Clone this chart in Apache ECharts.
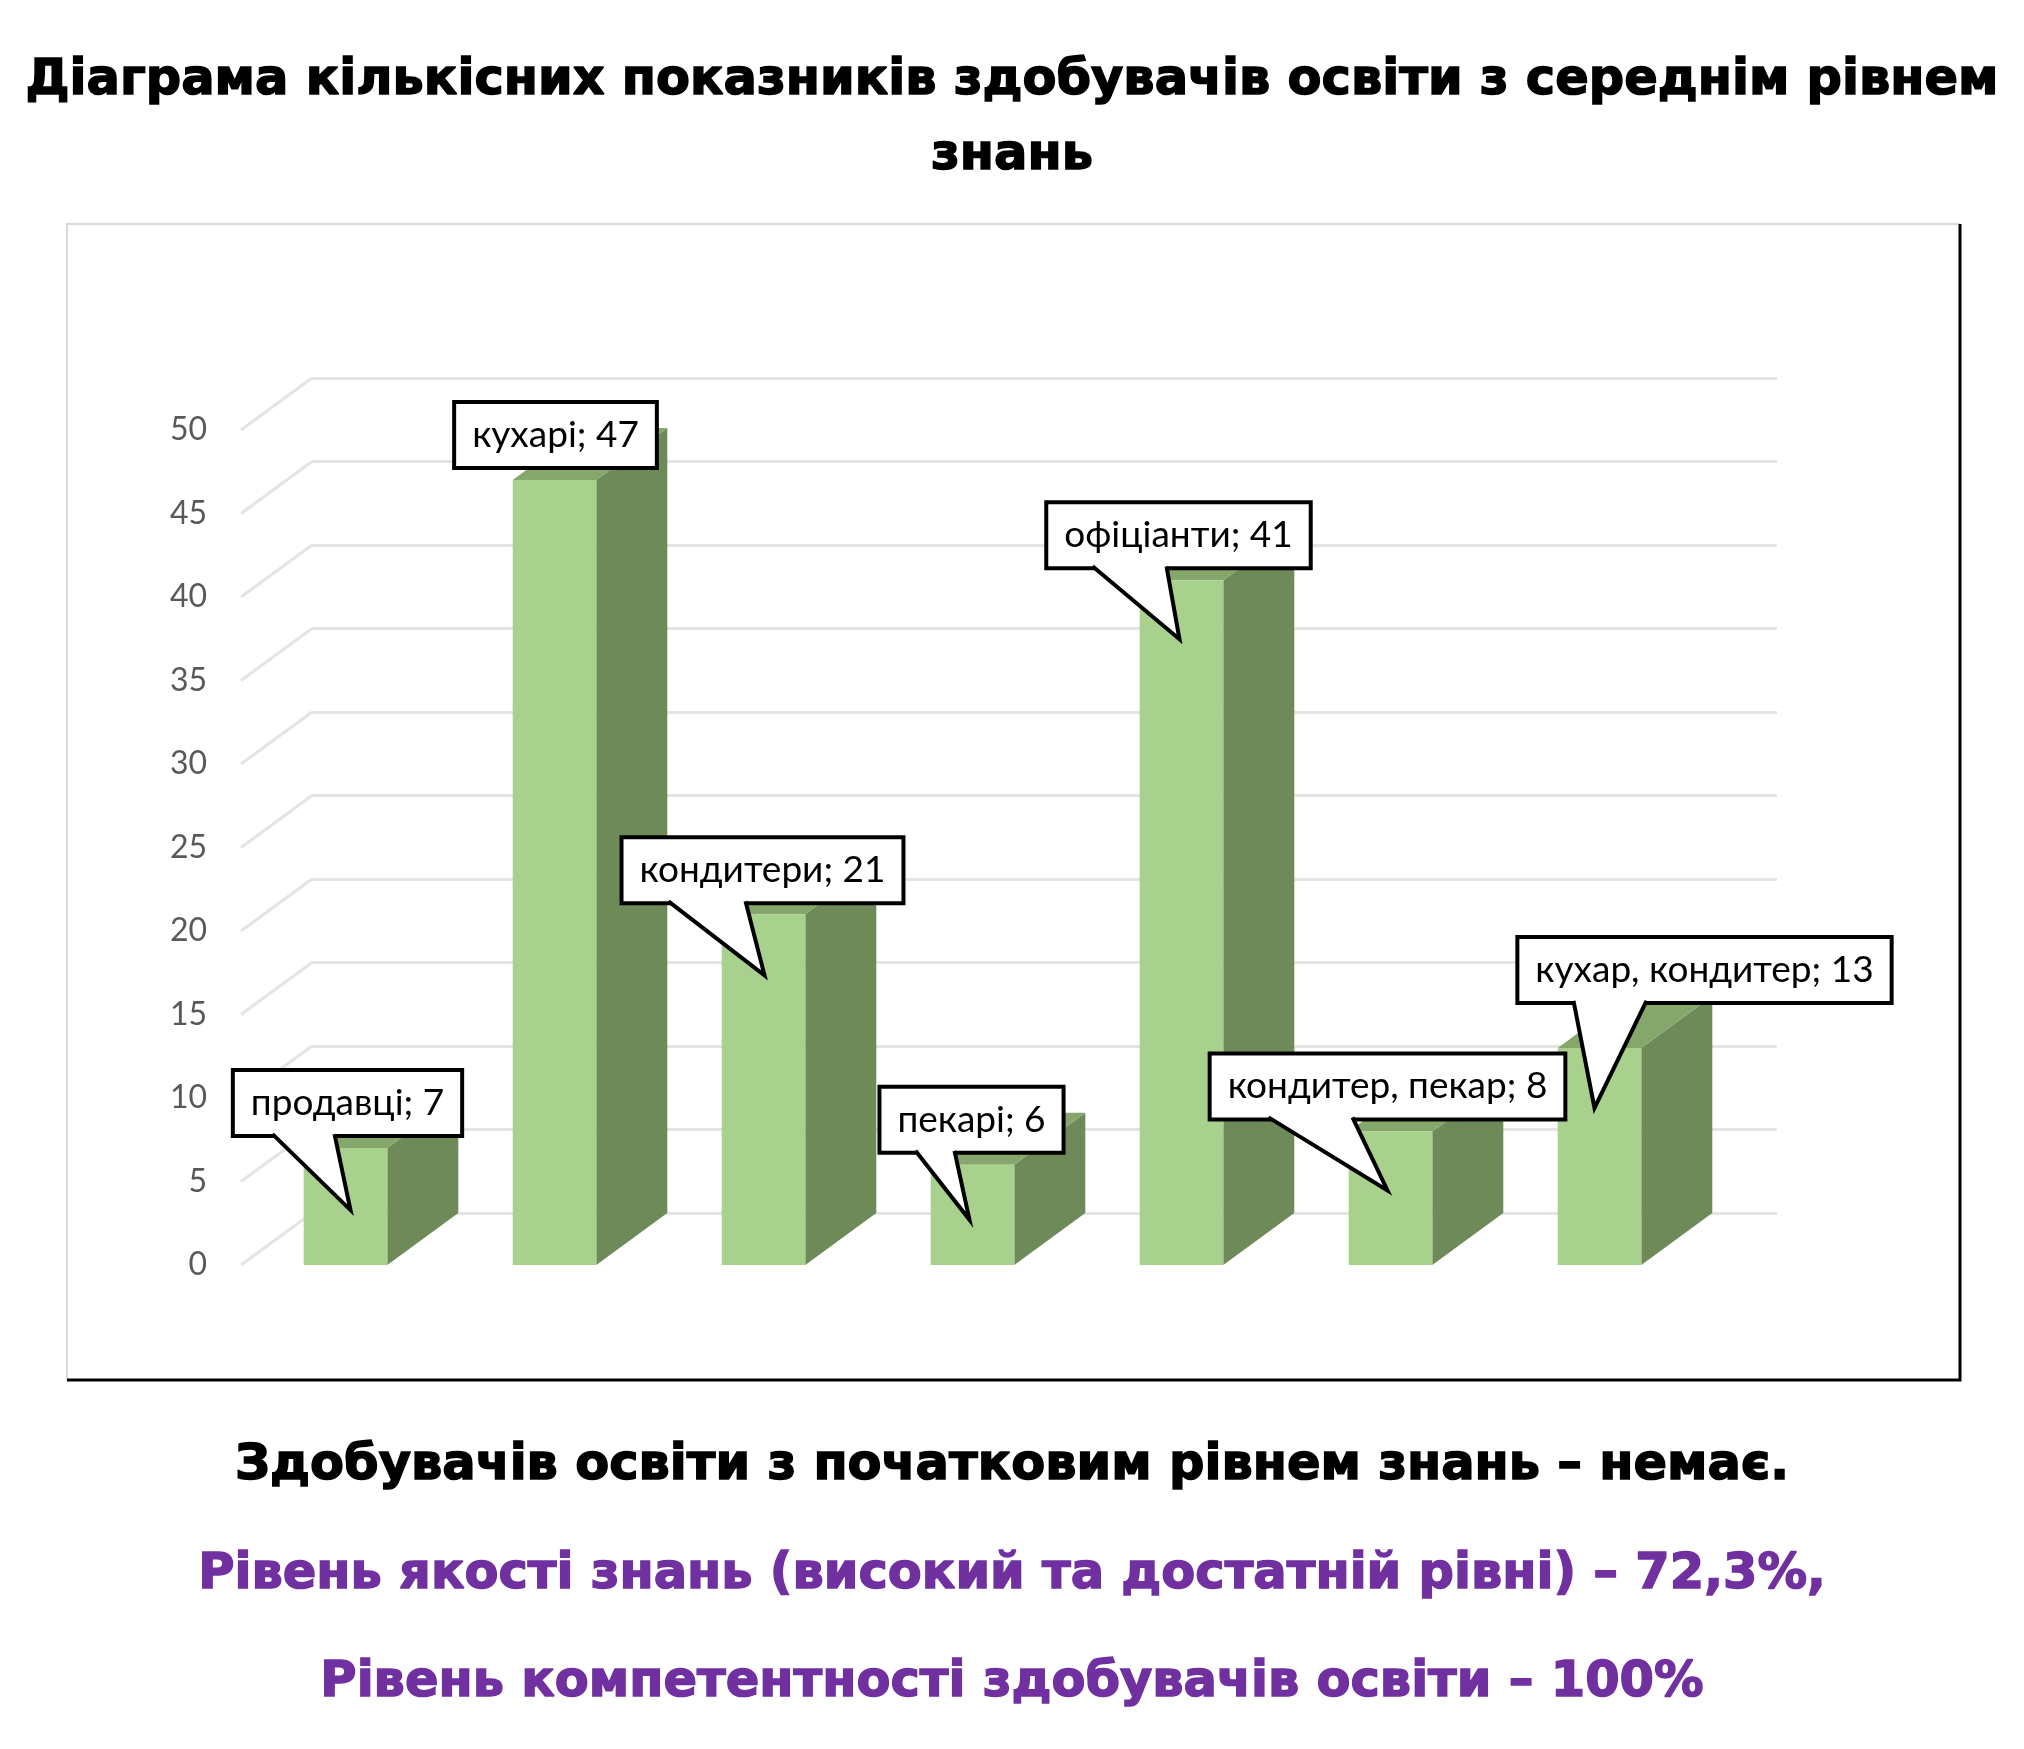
<!DOCTYPE html>
<html>
<head>
<meta charset="utf-8">
<script src="https://cdn.jsdelivr.net/npm/echarts@6/dist/echarts.min.js"></script>
<style>
  html, body { margin: 0; padding: 0; background: #fff; }
  #chart { width: 2024px; height: 1749px; }
</style>
</head>
<body>
<div id="chart"></div>
<script>
// дані діаграми
var categories = ['продавці', 'кухарі', 'кондитери', 'пекарі', 'офіціанти', 'кондитер, пекар', 'кухар, кондитер'];
var values = [7, 47, 21, 6, 41, 8, 13];
var yTicks = [0, 5, 10, 15, 20, 25, 30, 35, 40, 45, 50];

// виноски: зсув рамки та вістря від верху стовпця (px)
var calloutBox = [[2, -45], [1, -45], [-1, -44], [-1, -45], [-3, -45], [-3, -45], [105, -78]];
var calloutTip = [[5, 62], null, [1, 61], [-3, 55], [-2, 59], [-3, 59], [-5, 60]];
var calloutBase = [[-73, -11], null, [-95, -18], [-57, -18], [-89, -15], [-122, -38], [-26, 47]];

var DX = 71, DY = -52; // глибина 3D
var FRONT = '#a9d18e', SIDE = '#6e8a59', TOP = '#86a76c';
var GRID_COLOR = '#e4e4e4';

var chart = echarts.init(document.getElementById('chart'));

function renderBar(params, api) {
  var i = api.value(0), v = api.value(1);
  var top = api.coord([i, v]), bot = api.coord([i, 0]);
  var w = api.size([1, 0])[0] * 0.4;
  var x0 = top[0] - w / 2, x1 = top[0] + w / 2;
  return {
    type: 'group',
    children: [
      { type: 'polygon', shape: { points: [[x1, top[1]], [x1 + DX, top[1] + DY], [x1 + DX, bot[1] + DY], [x1, bot[1]]] }, style: { fill: SIDE } },
      { type: 'polygon', shape: { points: [[x0, top[1]], [x0 + DX, top[1] + DY], [x1 + DX, top[1] + DY], [x1, top[1]]] }, style: { fill: TOP } },
      { type: 'rect', shape: { x: x0, y: top[1], width: w, height: bot[1] - top[1] }, style: { fill: FRONT } }
    ]
  };
}

// бічна стінка — діагональні лінії сітки
function renderWall(params, api) {
  var p = api.coord([0, api.value(1)]);
  var left = p[0] - api.size([1, 0])[0] / 2;
  return {
    type: 'line',
    shape: { x1: left, y1: p[1], x2: left + DX, y2: p[1] + DY },
    style: { stroke: GRID_COLOR, lineWidth: 3 }
  };
}

function renderCallout(params, api) {
  var i = params.dataIndex;
  var top = api.coord([api.value(0), api.value(1)]);
  var cx = top[0] + calloutBox[i][0], cy = top[1] + calloutBox[i][1];
  var children = [{
    type: 'text',
    x: cx, y: cy,
    style: {
      text: categories[i] + '; ' + values[i],
      align: 'center', verticalAlign: 'middle',
      fontFamily: 'Lato', fontSize: 37, lineHeight: 40,
      fill: '#000',
      backgroundColor: '#fff', borderColor: '#000', borderWidth: 4,
      padding: [11, 16]
    }
  }];
  if (calloutTip[i]) {
    var by = cy + 31;
    var b1 = top[0] + calloutBase[i][0], b2 = top[0] + calloutBase[i][1];
    var tip = [top[0] + calloutTip[i][0], top[1] + calloutTip[i][1]];
    children.push({ type: 'polygon', shape: { points: [[b1, by - 2], [b2, by - 2], tip] }, style: { fill: '#fff' } });
    children.push({ type: 'polyline', shape: { points: [[b1, by], tip, [b2, by]] }, style: { stroke: '#000', lineWidth: 4, fill: null, lineJoin: 'miter' } });
  }
  return { type: 'group', children: children };
}

var barData = values.map(function (v, i) { return [i, v]; });

function heading(color) {
  return {
    fontFamily: 'DejaVu Sans', fontWeight: 'bold', fontSize: 49.5, lineHeight: 56,
    color: color, textBorderColor: color, textBorderWidth: 1.5
  };
}

var option = {
  backgroundColor: '#fff',
  animation: false,
  title: [
    {
      text: 'Діаграма кількісних показників здобувачів освіти з середнім рівнем\nзнань',
      left: 'center', top: 39,
      textStyle: Object.assign(heading('#000'), { lineHeight: 75 })
    },
    {
      text: 'Здобувачів освіти з початковим рівнем знань – немає.',
      left: 'center', top: 1433,
      textStyle: heading('#000')
    },
    {
      text: 'Рівень якості знань (високий та достатній рівні) – 72,3%,',
      left: 'center', top: 1542,
      textStyle: heading('#7030a0')
    },
    {
      text: 'Рівень компетентності здобувачів освіти – 100%',
      left: 'center', top: 1650,
      textStyle: heading('#7030a0')
    }
  ],
  graphic: [
    { type: 'polyline', shape: { points: [[67, 1380], [67, 224], [1960, 224]] }, style: { stroke: '#d9d9d9', lineWidth: 2, fill: null } },
    { type: 'polyline', shape: { points: [[67, 1380], [1960, 1380], [1960, 224]] }, style: { stroke: '#000', lineWidth: 3, fill: null } }
  ],
  grid: [
    { left: 241, right: 320, top: 430, bottom: 484, outerBoundsMode: 'none' },
    { left: 312, right: 247, top: 378, bottom: 536, outerBoundsMode: 'none' }
  ],
  xAxis: [
    { type: 'category', data: categories, gridIndex: 0, axisLine: { show: false }, axisTick: { show: false }, axisLabel: { show: false } },
    { type: 'category', data: categories, gridIndex: 1, axisLine: { show: false }, axisTick: { show: false }, axisLabel: { show: false } }
  ],
  yAxis: [
    {
      type: 'value', gridIndex: 0, min: 0, max: 50, interval: 5,
      axisLine: { show: false }, axisTick: { show: false }, splitLine: { show: false },
      axisLabel: { color: '#595959', fontFamily: 'Lato', fontSize: 32, margin: 34 }
    },
    {
      type: 'value', gridIndex: 1, min: 0, max: 50, interval: 5,
      axisLine: { show: false }, axisTick: { show: false }, axisLabel: { show: false },
      splitLine: { lineStyle: { color: GRID_COLOR, width: 3 } }
    }
  ],
  series: [
    {
      type: 'custom', xAxisIndex: 0, yAxisIndex: 0, z: 1,
      renderItem: renderWall,
      data: yTicks.map(function (t) { return [0, t]; })
    },
    {
      type: 'custom', name: 'bars', xAxisIndex: 0, yAxisIndex: 0, z: 2,
      renderItem: renderBar, data: barData
    },
    {
      type: 'custom', name: 'callouts', xAxisIndex: 0, yAxisIndex: 0, z: 5, clip: false,
      renderItem: renderCallout, data: barData
    }
  ]
};

chart.setOption(option);
</script>
</body>
</html>
